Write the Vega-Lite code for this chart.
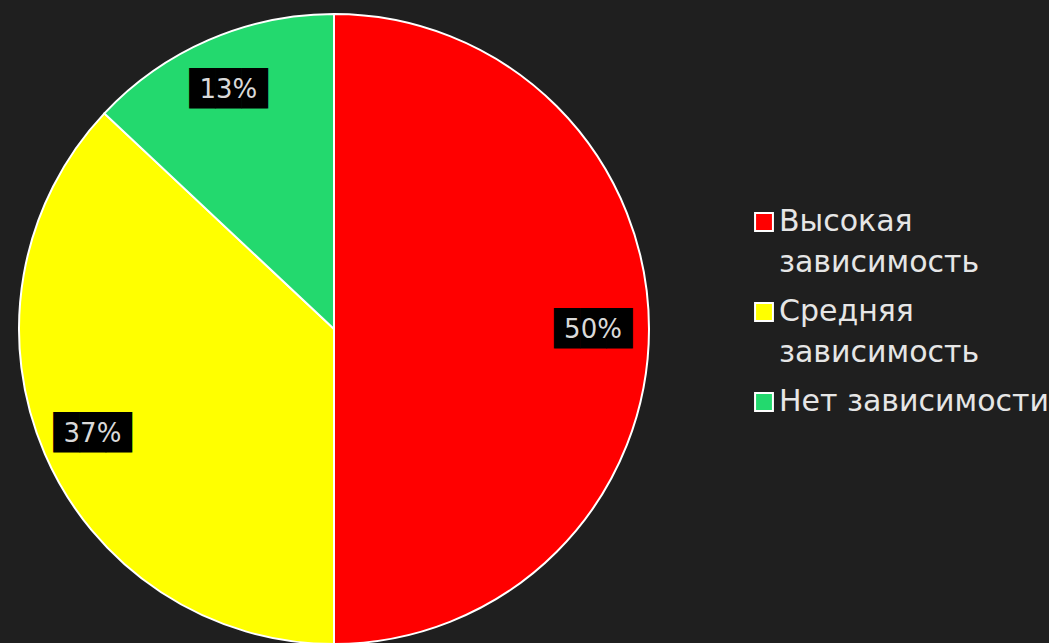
{
  "$schema": "https://vega.github.io/schema/vega-lite/v6.json",
  "width": 630,
  "height": 630,
  "padding": {"left": 15, "top": 10, "right": 0, "bottom": 0},
  "background": "#1f1f1f",
  "config": {"view": {"stroke": null}},
  "data": {
    "values": [
      {"category": "Высокая зависимость", "value": 50, "label": "50%", "order": 1},
      {"category": "Средняя зависимость", "value": 37, "label": "37%", "order": 2},
      {"category": "Нет зависимости", "value": 13, "label": "13%", "order": 3}
    ]
  },
  "encoding": {
    "theta": {"field": "value", "type": "quantitative", "stack": true},
    "order": {"field": "order", "type": "quantitative"}
  },
  "layer": [
    {
      "mark": {"type": "arc", "outerRadius": 315, "stroke": "white", "strokeWidth": 2},
      "encoding": {
        "color": {
          "field": "category",
          "type": "nominal",
          "scale": {
            "domain": ["Высокая зависимость", "Средняя зависимость", "Нет зависимости"],
            "range": ["#ff0000", "#ffff00", "#23d96e"]
          },
          "legend": {
            "orient": "none",
            "legendX": 730,
            "legendY": 193,
            "title": null,
            "symbolType": "square",
            "symbolSize": 320,
            "symbolStrokeColor": "white",
            "symbolStrokeWidth": 2,
            "labelFont": "DejaVu Sans",
            "labelFontSize": 30,
            "labelColor": "#e6e6e6",
            "labelLimit": 400,
            "labelOffset": 0,
            "rowPadding": 19,
            "labelExpr": "datum.label == 'Высокая зависимость' ? ['Высокая', 'зависимость'] : datum.label == 'Средняя зависимость' ? ['Средняя', 'зависимость'] : datum.label",
            "encode": {"labels": {"update": {"lineHeight": {"value": 41}}}}
          }
        }
      }
    },
    {
      "mark": {"type": "text", "radius": 261, "text": "███", "font": "DejaVu Sans", "fontSize": 34, "color": "black", "dx": -2, "dy": 1}
    },
    {
      "mark": {"type": "text", "radius": 261, "fontSize": 26, "color": "#d9d9d9", "font": "DejaVu Sans", "dx": -2, "dy": 1},
      "encoding": {"text": {"field": "label", "type": "nominal"}}
    }
  ]
}
